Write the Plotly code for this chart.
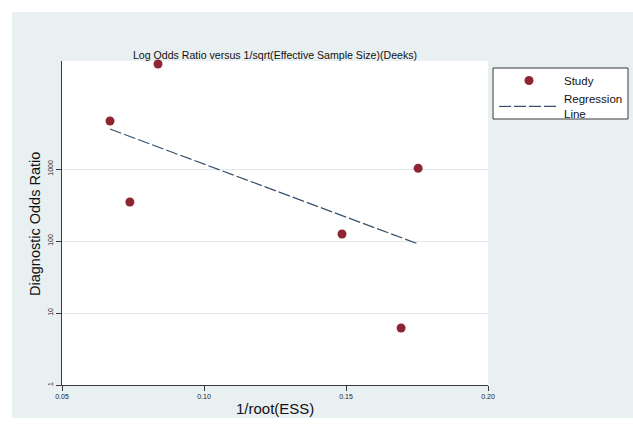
import plotly.graph_objects as go

# ---- data ----
study_x = [0.0669, 0.0838, 0.0739, 0.1486, 0.1754, 0.1694]
study_dor = [4640, 28700, 348, 125, 1025, 6.2]
reg_x = [0.0669, 0.1754]
reg_dor = [3590, 91]
x_tickvals = [0.05, 0.10, 0.15, 0.20]
x_ticktext = ["0.05", "0.10", "0.15", "0.20"]
y_tickvals = [1, 10, 100, 1000]
y_ticktext = ["1", "10", "100", "1000"]

BG = "#e9f0f2"
GRID = "#dfe8eb"
AXIS = "#3a3a3a"
FONT = "Liberation Sans, Arial, sans-serif"

W, H = 633, 426
# plot area in page pixels
PL, PR, PT, PB = 62, 488, 61, 385
PW, PH = PR - PL, PB - PT


def px(x):
    return (x - PL) / PW


def py(y):
    return (PB - y) / PH


fig = go.Figure()
fig.add_trace(go.Scatter(
    x=study_x, y=study_dor, mode="markers", name="Study",
    marker=dict(color="#8e2531", size=9, line=dict(width=0)),
    cliponaxis=False,
))
fig.add_trace(go.Scatter(
    x=reg_x, y=reg_dor, mode="lines", name="Regression<br>Line",
    line=dict(color="#34506c", width=1.2, dash="12px,3px"),
))

# light outer background, white plot region, legend frame
fig.add_shape(type="rect", xref="paper", yref="paper",
              x0=px(12), x1=px(640), y0=py(418), y1=py(12),
              fillcolor=BG, line=dict(width=0), layer="below")
fig.add_shape(type="rect", xref="paper", yref="paper",
              x0=0, x1=1, y0=0, y1=1,
              fillcolor="white", line=dict(width=0), layer="below")
fig.add_shape(type="rect", xref="paper", yref="paper",
              x0=px(493), x1=px(628), y0=py(119), y1=py(68),
              fillcolor="white", line=dict(color=AXIS, width=1), layer="below")

fig.update_layout(
    width=W, height=H,
    margin=dict(l=PL, r=W - PR, t=PT, b=H - PB, autoexpand=False),
    paper_bgcolor="white", plot_bgcolor="white",
    font=dict(family=FONT, color="#111"),
    title=dict(text="Log Odds Ratio versus 1/sqrt(Effective Sample Size)(Deeks)",
               x=0.5, xref="paper", xanchor="center",
               y=1 - 55 / H, yref="container", yanchor="middle",
               font=dict(size=10.6, family=FONT, color="#111")),
    showlegend=True,
    legend=dict(x=px(494), y=py(66), xanchor="left", yanchor="top",
                bgcolor="rgba(0,0,0,0)", borderwidth=0,
                font=dict(size=11.5, family=FONT, color="#111"),
                itemwidth=60, tracegroupgap=0),
    xaxis=dict(range=[0.05, 0.20], tickvals=x_tickvals, ticktext=x_ticktext,
               showgrid=False, zeroline=False, showline=True, linecolor=AXIS,
               linewidth=1, ticks="outside", ticklen=5, tickcolor=AXIS,
               tickfont=dict(size=7, family=FONT, color="#222")),
    yaxis=dict(type="log", range=[0, 4.5], tickvals=y_tickvals, ticktext=y_ticktext,
               showgrid=True, gridcolor=GRID, gridwidth=1, zeroline=False,
               showline=True, linecolor=AXIS, linewidth=1,
               ticks="outside", ticklen=5, tickcolor=AXIS, tickangle=-90,
               tickfont=dict(size=7, family=FONT, color="#222")),
    annotations=[
        dict(text="Diagnostic Odds Ratio", xref="paper", yref="paper",
             x=px(35), y=py(224), textangle=-90, showarrow=False,
             xanchor="center", yanchor="middle",
             font=dict(size=14.5, family=FONT, color="#111")),
        dict(text="1/root(ESS)", xref="paper", yref="paper",
             x=px(275), y=py(409), showarrow=False,
             xanchor="center", yanchor="middle",
             font=dict(size=15, family=FONT, color="#111")),
    ],
)

fig.write_html(
    "out.html",
    config={"displayModeBar": False},
    post_script="document.body.style.margin='0';document.body.style.overflow='hidden';",
)
